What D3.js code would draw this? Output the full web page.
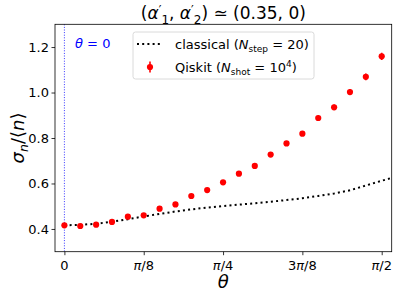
<!DOCTYPE html>
<html>
<head>
<meta charset="utf-8">
<script src="https://cdn.jsdelivr.net/npm/d3@7"></script>
<style>
  body { margin: 0; background: #fff; }
  text { font-family: "DejaVu Sans", sans-serif; fill: #000; }
</style>
</head>
<body>
<div class="chart"></div>
<script>
// theta in units of pi/40, 0 .. 20 (= pi/2)
const steps = d3.range(0, 21);
const qiskitValues = [0.416, 0.413, 0.419, 0.431, 0.454, 0.460, 0.489, 0.508, 0.545, 0.571,
                      0.605, 0.643, 0.677, 0.727, 0.776, 0.819, 0.888, 0.935, 1.002, 1.069, 1.159];
const qiskitErrors = [0.004, 0.004, 0.004, 0.004, 0.005, 0.005, 0.005, 0.006, 0.006, 0.006,
                      0.007, 0.007, 0.008, 0.009, 0.009, 0.010, 0.011, 0.012, 0.013, 0.015, 0.016];
// classical curve, sampled on the same grid plus one step past pi/2
const classicalSteps = d3.range(0, 22);
const classicalValues = [0.416, 0.418, 0.423, 0.432, 0.443, 0.455, 0.466, 0.477, 0.486, 0.494,
                         0.501, 0.507, 0.513, 0.520, 0.527, 0.535, 0.545, 0.556, 0.570, 0.591, 0.612, 0.632];
const xTicks = [0, Math.PI / 8, Math.PI / 4, 3 * Math.PI / 8, Math.PI / 2];
const xTickLabels = [["0"], ["π", "/8"], ["π", "/4"], ["3", "π", "/8"], ["π", "/2"]];
const yTicks = [0.4, 0.6, 0.8, 1.0, 1.2];

const width = 399, height = 298;
const margin = {top: 24.3, right: 7.3, bottom: 46.3, left: 55};

const svg = d3.select('.chart').append('svg')
    .attr('width', width)
    .attr('height', height);

const x = d3.scaleLinear()
    .domain([-0.0465, Math.PI / 2 + 0.0495])
    .range([margin.left, width - margin.right]);
const y = d3.scaleLinear()
    .domain([0.3, 1.3])
    .range([height - margin.bottom, margin.top]);

const th = k => k * Math.PI / 40;

svg.append('clipPath').attr('id', 'plotclip')
  .append('rect')
    .attr('x', margin.left).attr('y', margin.top)
    .attr('width', width - margin.left - margin.right)
    .attr('height', height - margin.top - margin.bottom);

const plot = svg.append('g').attr('clip-path', 'url(#plotclip)');

// theta = 0 marker line
plot.append('line')
    .attr('x1', x(0)).attr('x2', x(0))
    .attr('y1', margin.top).attr('y2', height - margin.bottom)
    .attr('stroke', '#0000ff')
    .attr('stroke-width', 0.8)
    .attr('stroke-dasharray', '1,1.6');

// classical curve
const line = d3.line()
    .x((d, i) => x(th(classicalSteps[i])))
    .y(d => y(d));
plot.append('path')
    .datum(classicalValues)
    .attr('d', line)
    .attr('fill', 'none')
    .attr('stroke', '#000')
    .attr('stroke-width', 2)
    .attr('stroke-dasharray', '2,3.2');

// qiskit points with error bars
plot.selectAll('.err')
    .data(steps)
    .enter()
    .append('line')
    .attr('class', 'err')
    .attr('x1', k => x(th(k))).attr('x2', k => x(th(k)))
    .attr('y1', (k, i) => y(qiskitValues[i] - qiskitErrors[i]))
    .attr('y2', (k, i) => y(qiskitValues[i] + qiskitErrors[i]))
    .attr('stroke', '#ff0000')
    .attr('stroke-width', 1.6);

plot.selectAll('.pt')
    .data(steps)
    .enter()
    .append('circle')
    .attr('class', 'pt')
    .attr('cx', k => x(th(k)))
    .attr('cy', (k, i) => y(qiskitValues[i]))
    .attr('r', 3.1)
    .attr('fill', '#ff0000');

// axes
const xAxis = svg.append('g')
    .attr('transform', `translate(0,${height - margin.bottom})`)
    .call(d3.axisBottom(x).tickValues(xTicks).tickSize(3.5).tickFormat(''));
const yAxis = svg.append('g')
    .attr('transform', `translate(${margin.left},0)`)
    .call(d3.axisLeft(y).tickValues(yTicks).tickSize(3.5).tickFormat(d3.format('.1f')));
[xAxis, yAxis].forEach(a => {
  a.select('.domain').remove();
  a.selectAll('line').attr('stroke', '#000').attr('stroke-width', 0.8);
});
yAxis.selectAll('text')
    .attr('x', -6)
    .style('font-size', '13px')
    .style('font-family', '"DejaVu Sans", sans-serif');

// x tick labels, pi in italics
xTicks.forEach((t, i) => {
  const txt = svg.append('text')
      .attr('x', x(t))
      .attr('y', height - margin.bottom + 18)
      .attr('text-anchor', 'middle')
      .style('font-size', '13px');
  xTickLabels[i].forEach(part => {
    txt.append('tspan')
        .style('font-style', part === 'π' ? 'italic' : 'normal')
        .text(part);
  });
});

// frame
svg.append('rect')
    .attr('x', margin.left).attr('y', margin.top)
    .attr('width', width - margin.left - margin.right)
    .attr('height', height - margin.top - margin.bottom)
    .attr('fill', 'none')
    .attr('stroke', '#000')
    .attr('stroke-width', 0.8);

// axis labels
svg.append('text')
    .attr('x', (margin.left + width - margin.right) / 2)
    .attr('y', 288)
    .attr('text-anchor', 'middle')
    .style('font-size', '18px')
    .style('font-style', 'italic')
    .text('θ');

const ylab = svg.append('text')
    .attr('transform', `translate(24,${(margin.top + height - margin.bottom) / 2}) rotate(-90)`)
    .attr('text-anchor', 'middle')
    .style('font-size', '18px');
ylab.append('tspan').style('font-style', 'italic').text('σ');
ylab.append('tspan').style('font-style', 'italic').style('font-size', '12.5px').attr('dy', 4).text('n');
ylab.append('tspan').attr('dy', -4).text('/⟨');
ylab.append('tspan').style('font-style', 'italic').text('n');
ylab.append('tspan').text('⟩');

// title
const title = svg.append('text')
    .attr('x', (margin.left + width - margin.right) / 2)
    .attr('y', 19)
    .attr('text-anchor', 'middle')
    .style('font-size', '17px');
title.append('tspan').text('(');
title.append('tspan').style('font-style', 'italic').text('α');
title.append('tspan').style('font-size', '12px').attr('dy', -5).text('′');
title.append('tspan').style('font-size', '12px').attr('dy', 10).text('1');
title.append('tspan').attr('dy', -5).text(', ');
title.append('tspan').style('font-style', 'italic').text('α');
title.append('tspan').style('font-size', '12px').attr('dy', -5).text('′');
title.append('tspan').style('font-size', '12px').attr('dy', 10).text('2');
title.append('tspan').attr('dy', -5).text(') ≃ (0.35, 0)');

// theta = 0 annotation
const ann = svg.append('text')
    .attr('x', 75)
    .attr('y', 48)
    .style('font-size', '13px');
ann.append('tspan').style('font-style', 'italic').style('fill', '#0000ff').text('θ');
ann.append('tspan').style('fill', '#0000ff').text(' = 0');

// legend
const lg = svg.append('g').attr('transform', 'translate(133,32)');
lg.append('rect')
    .attr('width', 181).attr('height', 47)
    .attr('rx', 2.5)
    .attr('fill', '#fff').attr('fill-opacity', 0.8)
    .attr('stroke', '#d0d0d0').attr('stroke-width', 0.8);
lg.append('line')
    .attr('x1', 4).attr('x2', 30).attr('y1', 12).attr('y2', 12)
    .attr('stroke', '#000').attr('stroke-width', 2).attr('stroke-dasharray', '2,3.2');
const t1 = lg.append('text').attr('x', 42).attr('y', 17).style('font-size', '13px');
t1.append('tspan').text('classical (');
t1.append('tspan').style('font-style', 'italic').text('N');
t1.append('tspan').style('font-size', '9px').attr('dy', 3).text('step');
t1.append('tspan').attr('dy', -3).text(' = 20)');

lg.append('line')
    .attr('x1', 17).attr('x2', 17).attr('y1', 29.5).attr('y2', 40.5)
    .attr('stroke', '#ff0000').attr('stroke-width', 1.6);
lg.append('circle').attr('cx', 17).attr('cy', 35).attr('r', 3.1).attr('fill', '#ff0000');
const t2 = lg.append('text').attr('x', 42).attr('y', 40).style('font-size', '13px');
t2.append('tspan').text('Qiskit (');
t2.append('tspan').style('font-style', 'italic').text('N');
t2.append('tspan').style('font-size', '9px').attr('dy', 3).text('shot');
t2.append('tspan').attr('dy', -3).text(' = 10');
t2.append('tspan').style('font-size', '9px').attr('dy', -5).text('4');
t2.append('tspan').attr('dy', 5).text(')');
</script>
</body>
</html>
